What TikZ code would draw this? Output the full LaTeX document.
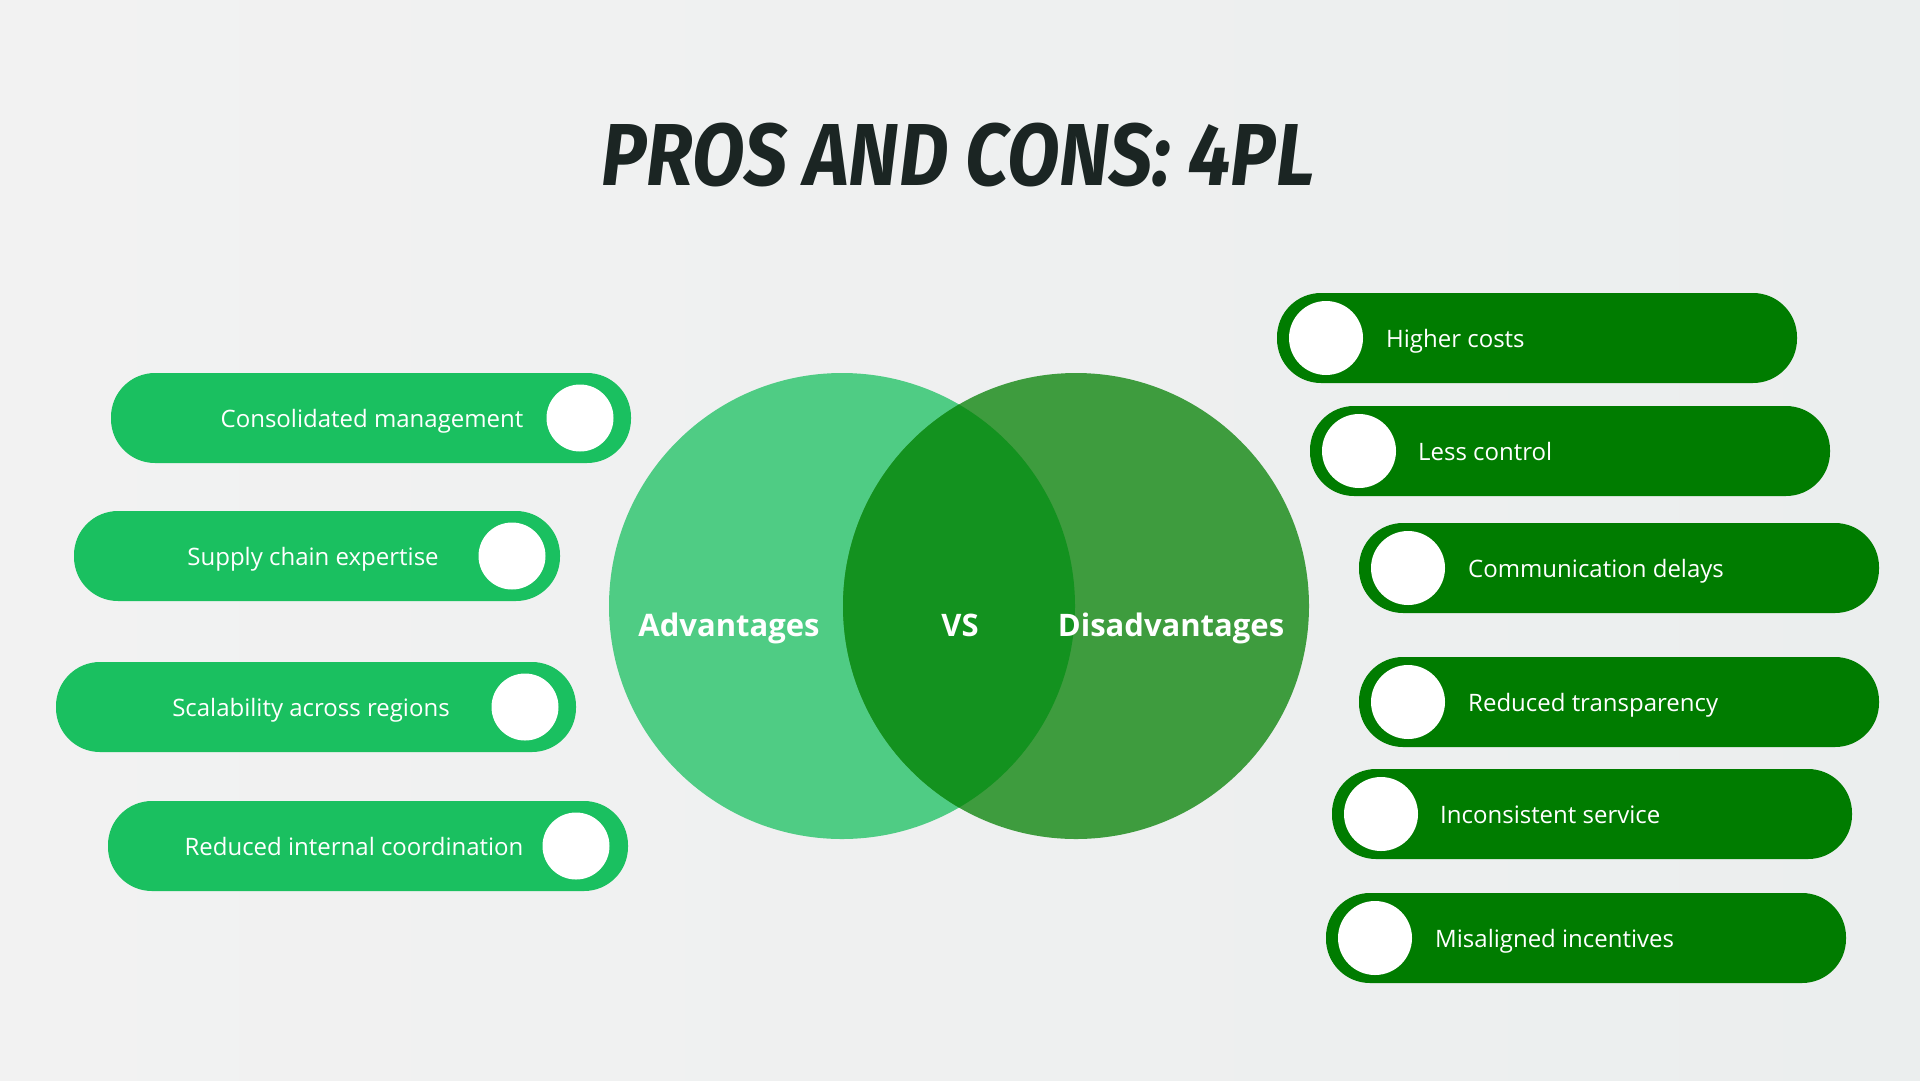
\documentclass[tikz,border=0pt]{standalone}
\usepackage{fontspec}
\setmainfont{Open Sans}
\newfontfamily\titlefont{Fira Sans}
\usetikzlibrary{shapes.geometric}
\definecolor{bgL}{HTML}{F2F2F2}
\definecolor{bgR}{HTML}{EBEEEE}
\definecolor{advC}{HTML}{4FCC84}
\definecolor{disC}{HTML}{3E9C3E}
\definecolor{midC}{HTML}{13921F}
\definecolor{proC}{HTML}{1AC060}
\definecolor{conC}{HTML}{007C00}
\definecolor{titleC}{HTML}{1B2523}
\tikzset{
  pill/.style={rectangle, rounded corners=44pt, minimum width=520pt, minimum height=90pt, inner sep=0pt},
  propill/.style={pill, fill=proC},
  conpill/.style={pill, fill=conC},
  prodot/.style={circle, fill=white, minimum size=67pt, inner sep=0pt},
  condot/.style={circle, fill=white, minimum size=74pt, inner sep=0pt},
  itemtext/.style={text=white, font=\fontsize{24}{28}\selectfont, inner sep=0pt, anchor=base},
  itemtextw/.style={itemtext, anchor=base west},
  bigtext/.style={text=white, font=\fontsize{31}{36}\selectfont\bfseries, inner sep=0pt, anchor=base},
}
\begin{document}
\begin{tikzpicture}[x=1pt,y=-1pt]
\useasboundingbox (0,0) rectangle (1920,1080);
\shade[left color=bgL, right color=bgR] (0,0) rectangle (1920,1080);

% title
\node[text=titleC, inner sep=0pt] (title) at (958,155)
  {\scalebox{0.87}[1]{\titlefont\fontsize{88}{96}\selectfont\bfseries\itshape PROS AND CONS: 4PL}};

% venn
\node[circle, fill=advC, minimum size=466pt, inner sep=0pt] (adv) at (842,606) {};
\node[circle, fill=disC, minimum size=466pt, inner sep=0pt] (dis) at (1076,606) {};
\begin{scope}
  \clip (842,606) circle (233);
  \fill[midC] (1076,606) circle (233);
\end{scope}
\node[bigtext] (advt) at (729,636) {Advantages};
\node[bigtext] (vst) at (960,636) {VS};
\node[bigtext] (dist) at (1171,636) {Disadvantages};

% pros
\node[propill] (p1) at (371,418) {};
\node[prodot] (d1) at (580,418) {};
\node[itemtext] (t1) at (372,427) {Consolidated management};
\node[propill, minimum width=486pt] (p2) at (317,556) {};
\node[prodot] (d2) at (512,556) {};
\node[itemtext] (t2) at (313,565) {Supply chain expertise};
\node[propill] (p3) at (316,707) {};
\node[prodot] (d3) at (525,707) {};
\node[itemtext] (t3) at (311,716) {Scalability across regions};
\node[propill] (p4) at (368,846) {};
\node[prodot] (d4) at (576,846) {};
\node[itemtext] (t4) at (354,855) {Reduced internal coordination};

% cons
\node[conpill] (q1) at (1537,338) {};
\node[condot] (e1) at (1326,338) {};
\node[itemtextw] (u1) at (1386,347) {Higher costs};
\node[conpill] (q2) at (1570,451) {};
\node[condot] (e2) at (1359,451) {};
\node[itemtextw] (u2) at (1418,460) {Less control};
\node[conpill] (q3) at (1619,568) {};
\node[condot] (e3) at (1408,568) {};
\node[itemtextw] (u3) at (1468,577) {Communication delays};
\node[conpill] (q4) at (1619,702) {};
\node[condot] (e4) at (1408,702) {};
\node[itemtextw] (u4) at (1468,711) {Reduced transparency};
\node[conpill] (q5) at (1592,814) {};
\node[condot] (e5) at (1381,814) {};
\node[itemtextw] (u5) at (1440,823) {Inconsistent service};
\node[conpill] (q6) at (1586,938) {};
\node[condot] (e6) at (1375,938) {};
\node[itemtextw] (u6) at (1435,947) {Misaligned incentives};
\end{tikzpicture}
\end{document}
